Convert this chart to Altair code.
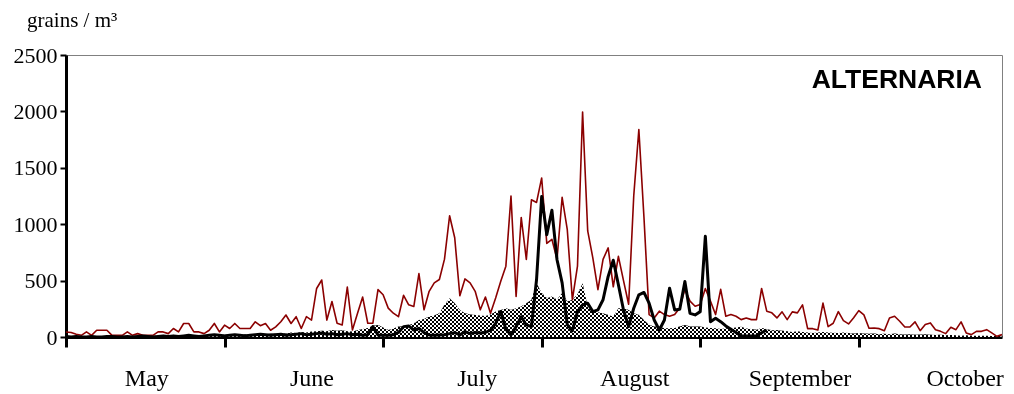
import altair as alt
import pandas as pd

# ---------------- data ----------------
days = list(range(184))

max_values = [
    45, 40, 25, 15, 45, 15, 60, 60, 60, 15,
    15, 15, 45, 15, 30, 15, 15, 15, 45, 45,
    30, 75, 45, 120, 120, 45, 45, 30, 60, 120,
    45, 105, 75, 120, 75, 75, 75, 135, 100, 120,
    60, 90, 135, 195, 120, 180, 75, 180, 150, 430,
    505, 150, 315, 122, 107, 443, 62, 211, 354, 122,
    122, 420, 375, 256, 211, 180, 370, 285, 270, 562,
    241, 405, 480, 510, 690, 1075, 880, 366, 515, 480,
    405, 241, 354, 211, 345, 494, 628, 1250, 360, 1060,
    688, 1217, 1193, 1410, 830, 866, 688, 1238, 955, 330,
    628, 1995, 940, 702, 420, 688, 790, 445, 715, 500,
    290, 1250, 1840, 1060, 199, 169, 229, 199, 184, 199,
    258, 422, 318, 273, 288, 430, 318, 199, 422, 184,
    199, 184, 154, 169, 154, 154, 430, 229, 214, 169,
    223, 154, 223, 214,
    285, 74, 74, 62, 300, 92, 122, 225, 145, 116,
    170, 234, 196, 77, 80, 74, 56, 169, 184, 140,
    89, 89, 134, 56, 110, 125, 65, 50, 30, 86,
    65, 134, 36, 21, 50, 50, 65, 36, 6, 21,
]

current_values = [
    5, 0, 5, 0, 0, 5, 0, 0, 5, 5,
    0, 0, 5, 0, 5, 10, 5, 0, 5, 10,
    5, 10, 5, 10, 15, 10, 5, 10, 15, 20,
    15, 10, 15, 20, 15, 10, 15, 20, 25, 20,
    15, 20, 25, 15, 20, 25, 30, 20, 25, 30,
    35, 25, 30, 20, 25, 30, 20, 25, 15, 20,
    92, 18, 15, 15, 20, 40, 92, 98, 62, 77,
    39, 18, 15, 18, 20, 30, 39, 18, 48, 30,
    40, 35, 40, 62, 120, 226, 68, 18, 92, 180,
    107, 92, 510, 1245, 907, 1124, 685, 480, 110, 55,
    225, 285, 300, 225, 240, 330, 537, 680, 463, 240,
    92, 255, 374, 395, 300, 151, 62, 151, 433, 240,
    246, 492, 210, 196, 225, 893, 136, 166, 136, 98,
    68, 40, 9, 9, 9, 9, 38, 62,
] + [None] * 46

mean_values = [
    5, 8, 6, 5, 8, 10, 6, 5, 8, 6,
    8, 10, 6, 8, 10, 12, 8, 10, 12, 10,
    12, 15, 12, 15, 18, 15, 12, 15, 18, 20,
    18, 20, 22, 18, 20, 25, 22, 25, 28, 25,
    30, 28, 35, 30, 40, 35, 45, 40, 48, 50,
    55, 50, 62, 55, 60, 50, 48, 60, 70, 80,
    100, 107, 85, 62, 75, 92, 95, 107, 120, 151,
    160, 181, 190, 210, 285, 344, 300, 240, 210, 200,
    196, 190, 187, 200, 225, 240, 255, 240, 255, 270,
    300, 330, 477, 390, 344, 360, 330, 390, 314, 330,
    380, 477, 270, 240, 220, 210, 196, 181, 255, 255,
    240, 210, 196, 151, 107, 92, 90, 77, 77, 80,
    92, 107, 92, 92, 92, 85, 80, 77, 70, 77,
    80, 85, 90, 75, 70, 65, 80, 70, 60, 62,
    55, 50, 45, 50, 45, 40, 35, 40, 45, 40,
    38, 35, 40, 35, 30, 35, 32, 28, 30, 25,
    28, 25, 30, 25, 22, 25, 20, 22, 25, 20,
    18, 20, 15, 18, 15, 12, 15, 10, 12, 10,
    10, 8, 8, 5,
]

month_names = ["May", "June", "July", "August", "September", "October"]
month_label_pos = [15.8, 48.1, 80.4, 111.2, 143.5, 175.8]
x_tick_values = [0, 31, 62, 93, 124, 155]
y_tick_values = [0, 500, 1000, 1500, 2000, 2500]

df = pd.DataFrame({"day": days, "maxv": max_values,
                   "cur": current_values, "mean": mean_values})
months_df = pd.DataFrame({"month": month_names, "pos": month_label_pos})
one = pd.DataFrame({"a": [0]})

# ---------------- layout ----------------
W, H = 936, 282
YMAX = 2500

xs = alt.Scale(domain=[0, 183], nice=False, zero=False)
ys = alt.Scale(domain=[0, YMAX], nice=False)

# checkerboard via two striped gradients blended with "difference"
sq = 2.0
v_stops = []
n_v = int(W / sq) + 1
for k in range(n_v):
    c = "#000000" if k % 2 == 0 else "#ffffff"
    o1 = min(k * sq / W, 1.0)
    o2 = min((k + 1) * sq / W, 1.0)
    v_stops.append(alt.GradientStop(offset=o1, color=c))
    v_stops.append(alt.GradientStop(offset=o2, color=c))

bbox_h = max(mean_values) / YMAX * H
h_stops = []
n_h = int(bbox_h / sq) + 1
for k in range(n_h):
    c = "#000000" if k % 2 == 0 else "#ffffff"
    o_hi = max(1.0 - k * sq / bbox_h, 0.0)
    o_lo = max(1.0 - (k + 1) * sq / bbox_h, 0.0)
    h_stops.append((o_lo, o_hi, c))
h_stops_sorted = []
for o_lo, o_hi, c in sorted(h_stops):
    h_stops_sorted.append(alt.GradientStop(offset=o_lo, color=c))
    h_stops_sorted.append(alt.GradientStop(offset=o_hi, color=c))


def y_axis():
    return alt.Axis(values=y_tick_values, title=None, grid=False, format="d",
                    labelFont="Liberation Serif", labelFontSize=22,
                    labelColor="#000000", domainColor="#000000", domainWidth=3,
                    tickColor="#000000", tickWidth=2, tickSize=6,
                    labelPadding=3)


def x_axis():
    return alt.Axis(values=x_tick_values, title=None, grid=False,
                    labels=False, domainColor="#000000", domainWidth=3,
                    tickColor="#000000", tickWidth=3, tickSize=10)


def X(field):
    return alt.X(field, scale=xs, axis=x_axis())


def Y(field):
    return alt.Y(field, scale=ys, axis=y_axis(), stack=None)


area_v = alt.Chart(df).mark_area(
    color=alt.LinearGradient(gradient="linear", stops=v_stops,
                             x1=0, x2=1, y1=0, y2=0),
).encode(x=X("day:Q"), y=Y("mean:Q"))

area_h = alt.Chart(df).mark_area(
    color=alt.LinearGradient(gradient="linear", stops=h_stops_sorted,
                             x1=0, x2=0, y1=0, y2=1),
    blend="difference",
).encode(x=X("day:Q"), y=Y("mean:Q"))

red_line = alt.Chart(df).mark_line(
    color="#8b0000", strokeWidth=1.6, strokeJoin="round"
).encode(x=X("day:Q"), y=Y("maxv:Q"))

black_line = alt.Chart(df).mark_line(
    color="#000000", strokeWidth=3, strokeJoin="round"
).encode(x=X("day:Q"), y=Y("cur:Q"))

month_text = alt.Chart(months_df).mark_text(
    font="Liberation Serif", fontSize=24, color="#000000",
    align="center", baseline="alphabetic",
).encode(x=X("pos:Q"), y=alt.value(331), text="month:N")

title_text = alt.Chart(one).mark_text(
    text="ALTERNARIA", font="Liberation Sans", fontSize=26.5, fontWeight="bold",
    color="#000000", align="right", baseline="alphabetic",
).encode(x=alt.value(916), y=alt.value(33))

unit_text = alt.Chart(one).mark_text(
    text="grains / m³", font="Liberation Serif", fontSize=21,
    color="#000000", align="left", baseline="alphabetic",
).encode(x=alt.value(-39), y=alt.value(-28))

chart = alt.layer(
    area_v, area_h, red_line, black_line, month_text, title_text, unit_text
).properties(
    width=W, height=H,
    autosize=alt.AutoSizeParams(type="none"),
    padding={"left": 58, "top": 47, "right": 4, "bottom": 56},
    background="#ffffff",
).configure_view(stroke="#808080", strokeWidth=1)

chart.save("out.html", embed_options={"renderer": "svg", "actions": False})
